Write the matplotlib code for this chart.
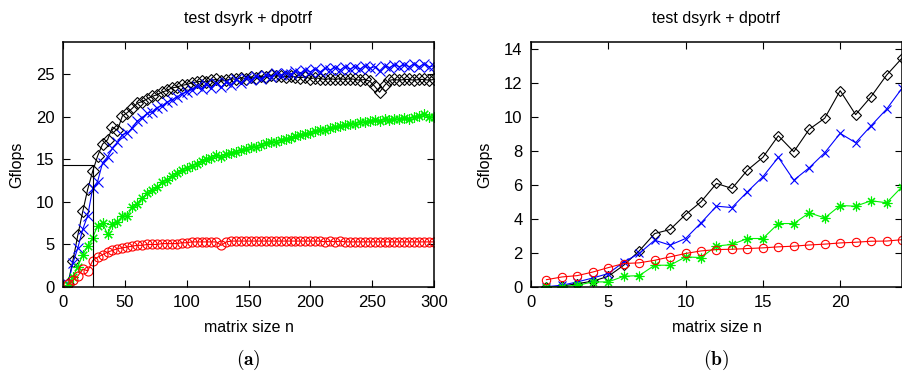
import matplotlib
matplotlib.use("Agg")
import matplotlib.pyplot as plt

plt.rcParams['font.family'] = ['Liberation Sans', 'DejaVu Sans']
plt.rcParams['mathtext.fontset'] = 'cm'

title = "test dsyrk + dpotrf"
xlabel = "matrix size n"
ylabel = "Gflops"

# (a) full range, one point every 4
n_a = list(range(4, 301, 4))
black_a = [0.4, 3.1, 6.1, 8.9, 11.5, 13.6, 15.4, 16.8, 17.3, 18.8,
           18.4, 20.1, 20.5, 21.0, 21.6, 21.8, 22.1, 22.4, 22.6, 22.9,
           23.1, 23.4, 23.5, 23.7, 23.8, 24.0, 24.1, 24.2, 24.1, 24.3,
           24.4, 24.2, 24.3, 24.5, 24.4, 24.6, 24.5, 24.7, 24.6, 24.8,
           24.7, 24.9, 24.8, 24.8, 24.7, 24.8, 24.7, 24.6, 24.7, 24.5,
           24.6, 24.5, 24.4, 24.5, 24.4, 24.5, 24.4, 24.5, 24.4, 24.3,
           24.4, 24.2, 23.6, 22.9, 23.7, 24.3, 24.4, 24.3, 24.4, 24.4,
           24.3, 24.4, 24.4, 24.3, 24.4]
blue_a = [0.3, 2.8, 4.6, 6.8, 8.4, 11.6, 12.4, 14.6, 15.3, 16.3,
          17.0, 17.9, 18.1, 18.7, 19.5, 19.9, 20.4, 20.6, 21.1, 21.3,
          21.7, 22.0, 22.3, 22.7, 22.9, 23.2, 23.6, 23.3, 23.9, 23.4,
          24.0, 23.5, 24.1, 23.8, 24.4, 24.0, 24.6, 24.3, 24.8, 24.5,
          24.9, 24.7, 25.1, 24.9, 25.2, 25.0, 25.4, 25.1, 25.5, 25.3,
          25.6, 25.3, 25.7, 25.5, 25.8, 25.5, 25.9, 25.6, 25.9, 25.6,
          26.0, 25.7, 25.9, 25.4, 26.0, 25.8, 26.1, 25.9, 26.1, 25.9,
          26.2, 25.9, 26.2, 25.9, 26.0]
green_a = [0.2, 1.2, 2.4, 3.8, 4.8, 5.8, 7.2, 7.5, 6.2, 7.4,
           7.6, 8.3, 8.4, 9.4, 9.8, 10.5, 11.0, 11.4, 11.7, 12.3,
           12.6, 13.0, 13.4, 13.7, 14.0, 14.2, 14.5, 14.8, 15.0, 15.2,
           15.5, 15.3, 15.6, 15.8, 15.9, 16.1, 16.2, 16.5, 16.5, 16.7,
           16.9, 17.0, 17.1, 17.3, 17.4, 17.5, 17.7, 17.9, 18.0, 18.1,
           18.3, 18.4, 18.5, 18.7, 18.8, 18.9, 19.0, 19.2, 19.2, 19.4,
           19.4, 19.5, 19.6, 19.5, 19.7, 19.6, 19.8, 19.7, 19.9, 19.8,
           20.0, 20.1, 20.3, 20.0, 20.0]
red_a = [0.3, 0.8, 1.3, 2.1, 1.9, 3.1, 3.5, 3.8, 4.1, 4.3,
         4.5, 4.6, 4.7, 4.8, 4.9, 4.9, 5.0, 5.0, 5.0, 5.1,
         5.1, 5.1, 5.1, 5.2, 5.2, 5.3, 5.3, 5.3, 5.3, 5.3,
         5.3, 4.9, 5.3, 5.4, 5.4, 5.4, 5.4, 5.4, 5.4, 5.4,
         5.4, 5.4, 5.4, 5.4, 5.4, 5.4, 5.4, 5.4, 5.4, 5.4,
         5.4, 5.4, 5.3, 5.4, 5.3, 5.4, 5.3, 5.3, 5.3, 5.3,
         5.3, 5.3, 5.3, 5.3, 5.3, 5.3, 5.3, 5.3, 5.3, 5.3,
         5.3, 5.3, 5.3, 5.3, 5.3]

# (b) small sizes
n_b = list(range(1, 25))
black_b = [0.0, 0.05, 0.2, 0.34, 0.63, 1.28, 2.12, 3.14, 3.38, 4.26,
           5.01, 6.09, 5.79, 6.87, 7.62, 8.89, 7.95, 9.27, 9.92, 11.54,
           10.13, 11.19, 12.45, 13.45]
blue_b = [0.02, 0.1, 0.3, 0.53, 0.79, 1.47, 1.97, 2.75, 2.46, 2.85,
          3.77, 4.75, 4.67, 5.6, 6.48, 7.62, 6.28, 7.01, 7.89, 9.03,
          8.48, 9.48, 10.45, 11.68]
green_b = [0.0, 0.02, 0.1, 0.3, 0.3, 0.63, 0.67, 1.28, 1.28, 1.77,
           1.73, 2.41, 2.5, 2.85, 2.85, 3.73, 3.73, 4.36, 4.06, 4.79,
           4.75, 5.07, 4.95, 5.89]
red_b = [0.43, 0.59, 0.67, 0.88, 1.14, 1.38, 1.42, 1.57, 1.77, 1.97,
         2.12, 2.2, 2.22, 2.26, 2.3, 2.36, 2.4, 2.47, 2.52, 2.59,
         2.63, 2.69, 2.7, 2.78]

# zoom box drawn on (a): the range of (b)
box_x = [0, 24, 24]
box_y = [14.4, 14.4, 0]

W, H = 903, 373
fig = plt.figure(figsize=(W / 100, H / 100), dpi=100)
ax_a = fig.add_axes([63 / W, 1 - 287 / H, 371 / W, 245 / H])
ax_b = fig.add_axes([531 / W, 1 - 287 / H, 371 / W, 245 / H])

green = '#00f000'


def draw(ax, n, bl, bu, gr, rd, ms):
    ax.plot(n, bl, color='black', lw=0.8, marker='D', ms=ms * 0.9,
            mfc='none', mew=0.8)
    ax.plot(n, bu, color='blue', lw=0.8, marker='x', ms=ms, mew=0.8)
    ax.plot(n, gr, color=green, lw=0.8, marker=(8, 2, 0), ms=ms + 1,
            mew=0.8)
    ax.plot(n, rd, color='red', lw=0.8, marker='o', ms=ms,
            mfc='none', mew=0.8)
    ax.tick_params(direction='in', top=True, right=True, length=5,
                   width=0.8, labelsize=12, pad=6)
    for s in ax.spines.values():
        s.set_linewidth(1.1)


draw(ax_a, n_a, black_a, blue_a, green_a, red_a, 6.5)
ax_a.plot(box_x, box_y, color='black', lw=0.8)
ax_a.set_xlim(0, 300)
ax_a.set_ylim(0, 28.8)
ax_a.set_xticks(range(0, 301, 50))
ax_a.set_yticks(range(0, 26, 5))

draw(ax_b, n_b, black_b, blue_b, green_b, red_b, 6)
ax_b.set_xlim(0, 24)
ax_b.set_ylim(0, 14.4)
ax_b.set_xticks(range(0, 21, 5))
ax_b.set_yticks(range(0, 15, 2))

for cx, lx, tag in [(248.5, 17, '(a)'), (716.5, 485, '(b)')]:
    fig.text(cx / W, 1 - 18 / H, title, ha='center', va='center', fontsize=11.5)
    fig.text(cx / W, 1 - 328 / H, xlabel, ha='center', va='center', fontsize=11.5)
    fig.text(lx / W, 1 - 164.5 / H, ylabel, ha='center', va='center',
             rotation=90, fontsize=11.5)
    fig.text(cx / W, 1 - 360 / H, r'$\mathbf{' + tag + '}$', ha='center',
             va='center', fontsize=14)

fig.savefig('out.png', dpi=100)
